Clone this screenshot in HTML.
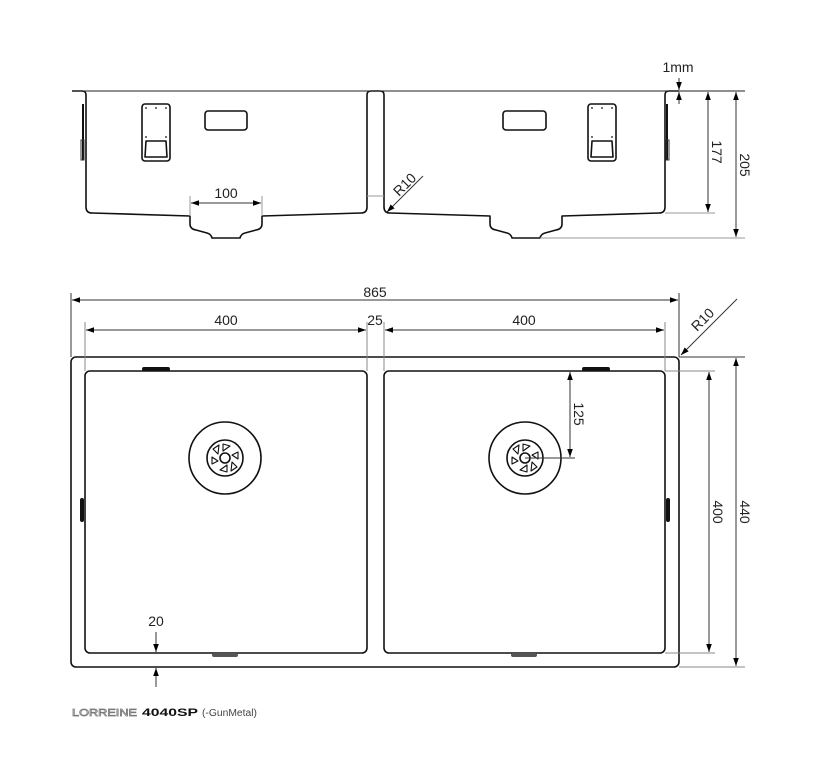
<!DOCTYPE html>
<html><head><style>
html,body{margin:0;padding:0;background:#fff;}
svg{display:block;font-family:"Liberation Sans",sans-serif;}
</style></head><body>
<svg width="816" height="766" viewBox="0 0 816 766" xmlns="http://www.w3.org/2000/svg">
<defs>
<marker id="a" viewBox="0 0 10 10" refX="10" refY="5" markerWidth="8" markerHeight="8" orient="auto-start-reverse" markerUnits="userSpaceOnUse"><path d="M0,1.5 L10,5 L0,8.5 z" fill="#000"/></marker>
</defs>
<g fill="none" stroke="#111" stroke-width="1.6" stroke-linejoin="round">
<path d="M72,91 H82 Q86,91 86,95 V207 Q86,213 92,213 L190,216 V224 Q190,229 196,230 L207,233 Q211,234 212,238 H240 Q241,234 245,233 L256,230 Q262,229 262,224 V216 L361,213 Q367,213 367,207 V95 Q367,91 371,91 H380 Q384,91 384,95 V207 Q384,213 390,213 L490,216 V224 Q490,229 496,230 L507,233 Q511,234 512,238 H540 Q541,234 545,233 L556,230 Q562,229 562,224 V216 L659,213 Q665,213 665,207 V95 Q665,91 669,91 H679"/>
<rect x="205" y="111" width="42" height="19" rx="3"/>
<rect x="503" y="111" width="43" height="19" rx="3"/>
<rect x="142" y="104" width="28" height="57" rx="3"/>
<path d="M146,141 H166 L167,157 H145 Z"/>
<rect x="588" y="104" width="28" height="57" rx="3"/>
<path d="M592,141 H612 L613,157 H591 Z"/>
</g>
<g fill="#111">
<circle cx="146" cy="108" r="0.9"/><circle cx="156" cy="108" r="0.9"/><circle cx="166" cy="108" r="0.9"/>
<circle cx="592" cy="108" r="0.9"/><circle cx="602" cy="108" r="0.9"/><circle cx="612" cy="108" r="0.9"/>
<circle cx="146" cy="137" r="0.9"/><circle cx="166" cy="137" r="0.9"/>
<circle cx="592" cy="137" r="0.9"/><circle cx="612" cy="137" r="0.9"/>
<rect x="82" y="104" width="2" height="56"/><rect x="666" y="104" width="2" height="56"/>
</g>
<g fill="none" stroke="#333" stroke-width="1">
<line x1="72" y1="91" x2="745" y2="91" stroke="#222"/>
<rect x="81" y="140" width="3" height="20"/><rect x="666" y="140" width="3" height="20"/>
<line x1="367" y1="196" x2="384" y2="196" stroke="#999"/>
<line x1="190" y1="196" x2="190" y2="216" stroke="#999"/>
<line x1="262" y1="196" x2="262" y2="216" stroke="#999"/>
<line x1="191" y1="203" x2="261" y2="203" marker-start="url(#a)" marker-end="url(#a)"/>
<line x1="423" y1="176" x2="387" y2="212" marker-end="url(#a)"/>
<line x1="665" y1="213" x2="715" y2="213" stroke="#999"/>
<line x1="540" y1="238" x2="745" y2="238" stroke="#999"/>
<line x1="708" y1="92" x2="708" y2="212" marker-start="url(#a)" marker-end="url(#a)"/>
<line x1="736" y1="92" x2="736" y2="237" marker-start="url(#a)" marker-end="url(#a)"/>
<line x1="679" y1="78" x2="679" y2="90" marker-end="url(#a)"/>
<line x1="679" y1="104" x2="679" y2="92" marker-end="url(#a)"/>
</g>
<g font-size="14" fill="#222">
<text x="226" y="198" text-anchor="middle">100</text>
<text x="678" y="72" text-anchor="middle">1mm</text>
<text transform="translate(399,197) rotate(-45)" >R10</text>
<text transform="translate(712,152) rotate(90)" text-anchor="middle">177</text>
<text transform="translate(740,165) rotate(90)" text-anchor="middle">205</text>
</g>

<g fill="none" stroke="#111" stroke-width="1.6">
<rect x="71" y="357" width="608" height="310" rx="5"/>
<rect x="85" y="371" width="282" height="282" rx="5"/>
<rect x="384" y="371" width="281" height="282" rx="5"/>
<circle cx="225" cy="458" r="36"/><circle cx="225" cy="458" r="18"/><circle cx="225" cy="458" r="5"/>
<circle cx="525" cy="458" r="36"/><circle cx="525" cy="458" r="18"/><circle cx="525" cy="458" r="5"/>
</g>
<g fill="none" stroke="#111" stroke-width="1.1" stroke-linejoin="round">
<path transform="translate(225,458)" d="M-2,-7 L-2,-14 L5,-12 Z M2,7 L2,14 L-5,12 Z M7,-3 L13,-6 L13,1 Z M-7,3 L-13,6 L-13,-1 Z M7,4 L12,9 L6,13 Z M-7,-4 L-12,-9 L-6,-13 Z"/>
<path transform="translate(525,458)" d="M-2,-7 L-2,-14 L5,-12 Z M2,7 L2,14 L-5,12 Z M7,-3 L13,-6 L13,1 Z M-7,3 L-13,6 L-13,-1 Z M7,4 L12,9 L6,13 Z M-7,-4 L-12,-9 L-6,-13 Z"/>
</g>
<g fill="#111">
<rect x="142" y="367" width="28" height="4" rx="2"/>
<rect x="582" y="367" width="28" height="4" rx="2"/>
<rect x="212" y="653" width="26" height="4" rx="2" fill="#555"/>
<rect x="511" y="653" width="26" height="4" rx="2" fill="#555"/>
<rect x="80" y="498" width="4" height="24" rx="2"/>
<rect x="666" y="498" width="4" height="24" rx="2"/>
</g>
<g fill="none" stroke="#333" stroke-width="1">
<line x1="71" y1="293" x2="71" y2="357"/><line x1="679" y1="293" x2="679" y2="357"/>
<line x1="85" y1="322" x2="85" y2="371" stroke="#888"/><line x1="367" y1="322" x2="367" y2="371" stroke="#888"/>
<line x1="384" y1="322" x2="384" y2="371" stroke="#888"/><line x1="665" y1="322" x2="665" y2="371" stroke="#888"/>
<line x1="72" y1="300" x2="678" y2="300" marker-start="url(#a)" marker-end="url(#a)"/>
<line x1="86" y1="330" x2="366" y2="330" marker-start="url(#a)" marker-end="url(#a)"/>
<line x1="385" y1="330" x2="664" y2="330" marker-start="url(#a)" marker-end="url(#a)"/>
<line x1="679" y1="357" x2="745" y2="357"/><line x1="665" y1="371" x2="715" y2="371" stroke="#888"/>
<line x1="665" y1="653" x2="715" y2="653" stroke="#888"/><line x1="679" y1="667" x2="745" y2="667" stroke="#888"/>
<line x1="736" y1="358" x2="736" y2="666" marker-start="url(#a)" marker-end="url(#a)"/>
<line x1="709" y1="372" x2="709" y2="652" marker-start="url(#a)" marker-end="url(#a)"/>
<line x1="570" y1="372" x2="570" y2="457" marker-start="url(#a)" marker-end="url(#a)"/>
<line x1="525" y1="458" x2="575" y2="458"/>
<line x1="737" y1="299" x2="681" y2="355" marker-end="url(#a)"/>
<line x1="156" y1="632" x2="156" y2="652" marker-end="url(#a)"/>
<line x1="156" y1="687" x2="156" y2="668" marker-end="url(#a)"/>
</g>
<g font-size="14" fill="#222">
<text x="375" y="297" text-anchor="middle">865</text>
<text x="226" y="325" text-anchor="middle">400</text>
<text x="375" y="325" text-anchor="middle">25</text>
<text x="524" y="325" text-anchor="middle">400</text>
<text x="156" y="626" text-anchor="middle">20</text>
<text transform="translate(697,332) rotate(-45)">R10</text>
<text transform="translate(574,414) rotate(90)" text-anchor="middle">125</text>
<text transform="translate(713,512) rotate(90)" text-anchor="middle">400</text>
<text transform="translate(740,512) rotate(90)" text-anchor="middle">440</text>
</g>
<text x="72" y="716" font-size="10" fill="#fff" stroke="#777" stroke-width="0.7" textLength="65" lengthAdjust="spacingAndGlyphs">LORREINE</text>
<text x="142" y="716" font-size="11" font-weight="bold" fill="#111" textLength="56" lengthAdjust="spacingAndGlyphs">4040SP</text>
<text x="202" y="716" font-size="10" fill="#444" textLength="55" lengthAdjust="spacingAndGlyphs">(-GunMetal)</text>
</svg>
</body></html>
